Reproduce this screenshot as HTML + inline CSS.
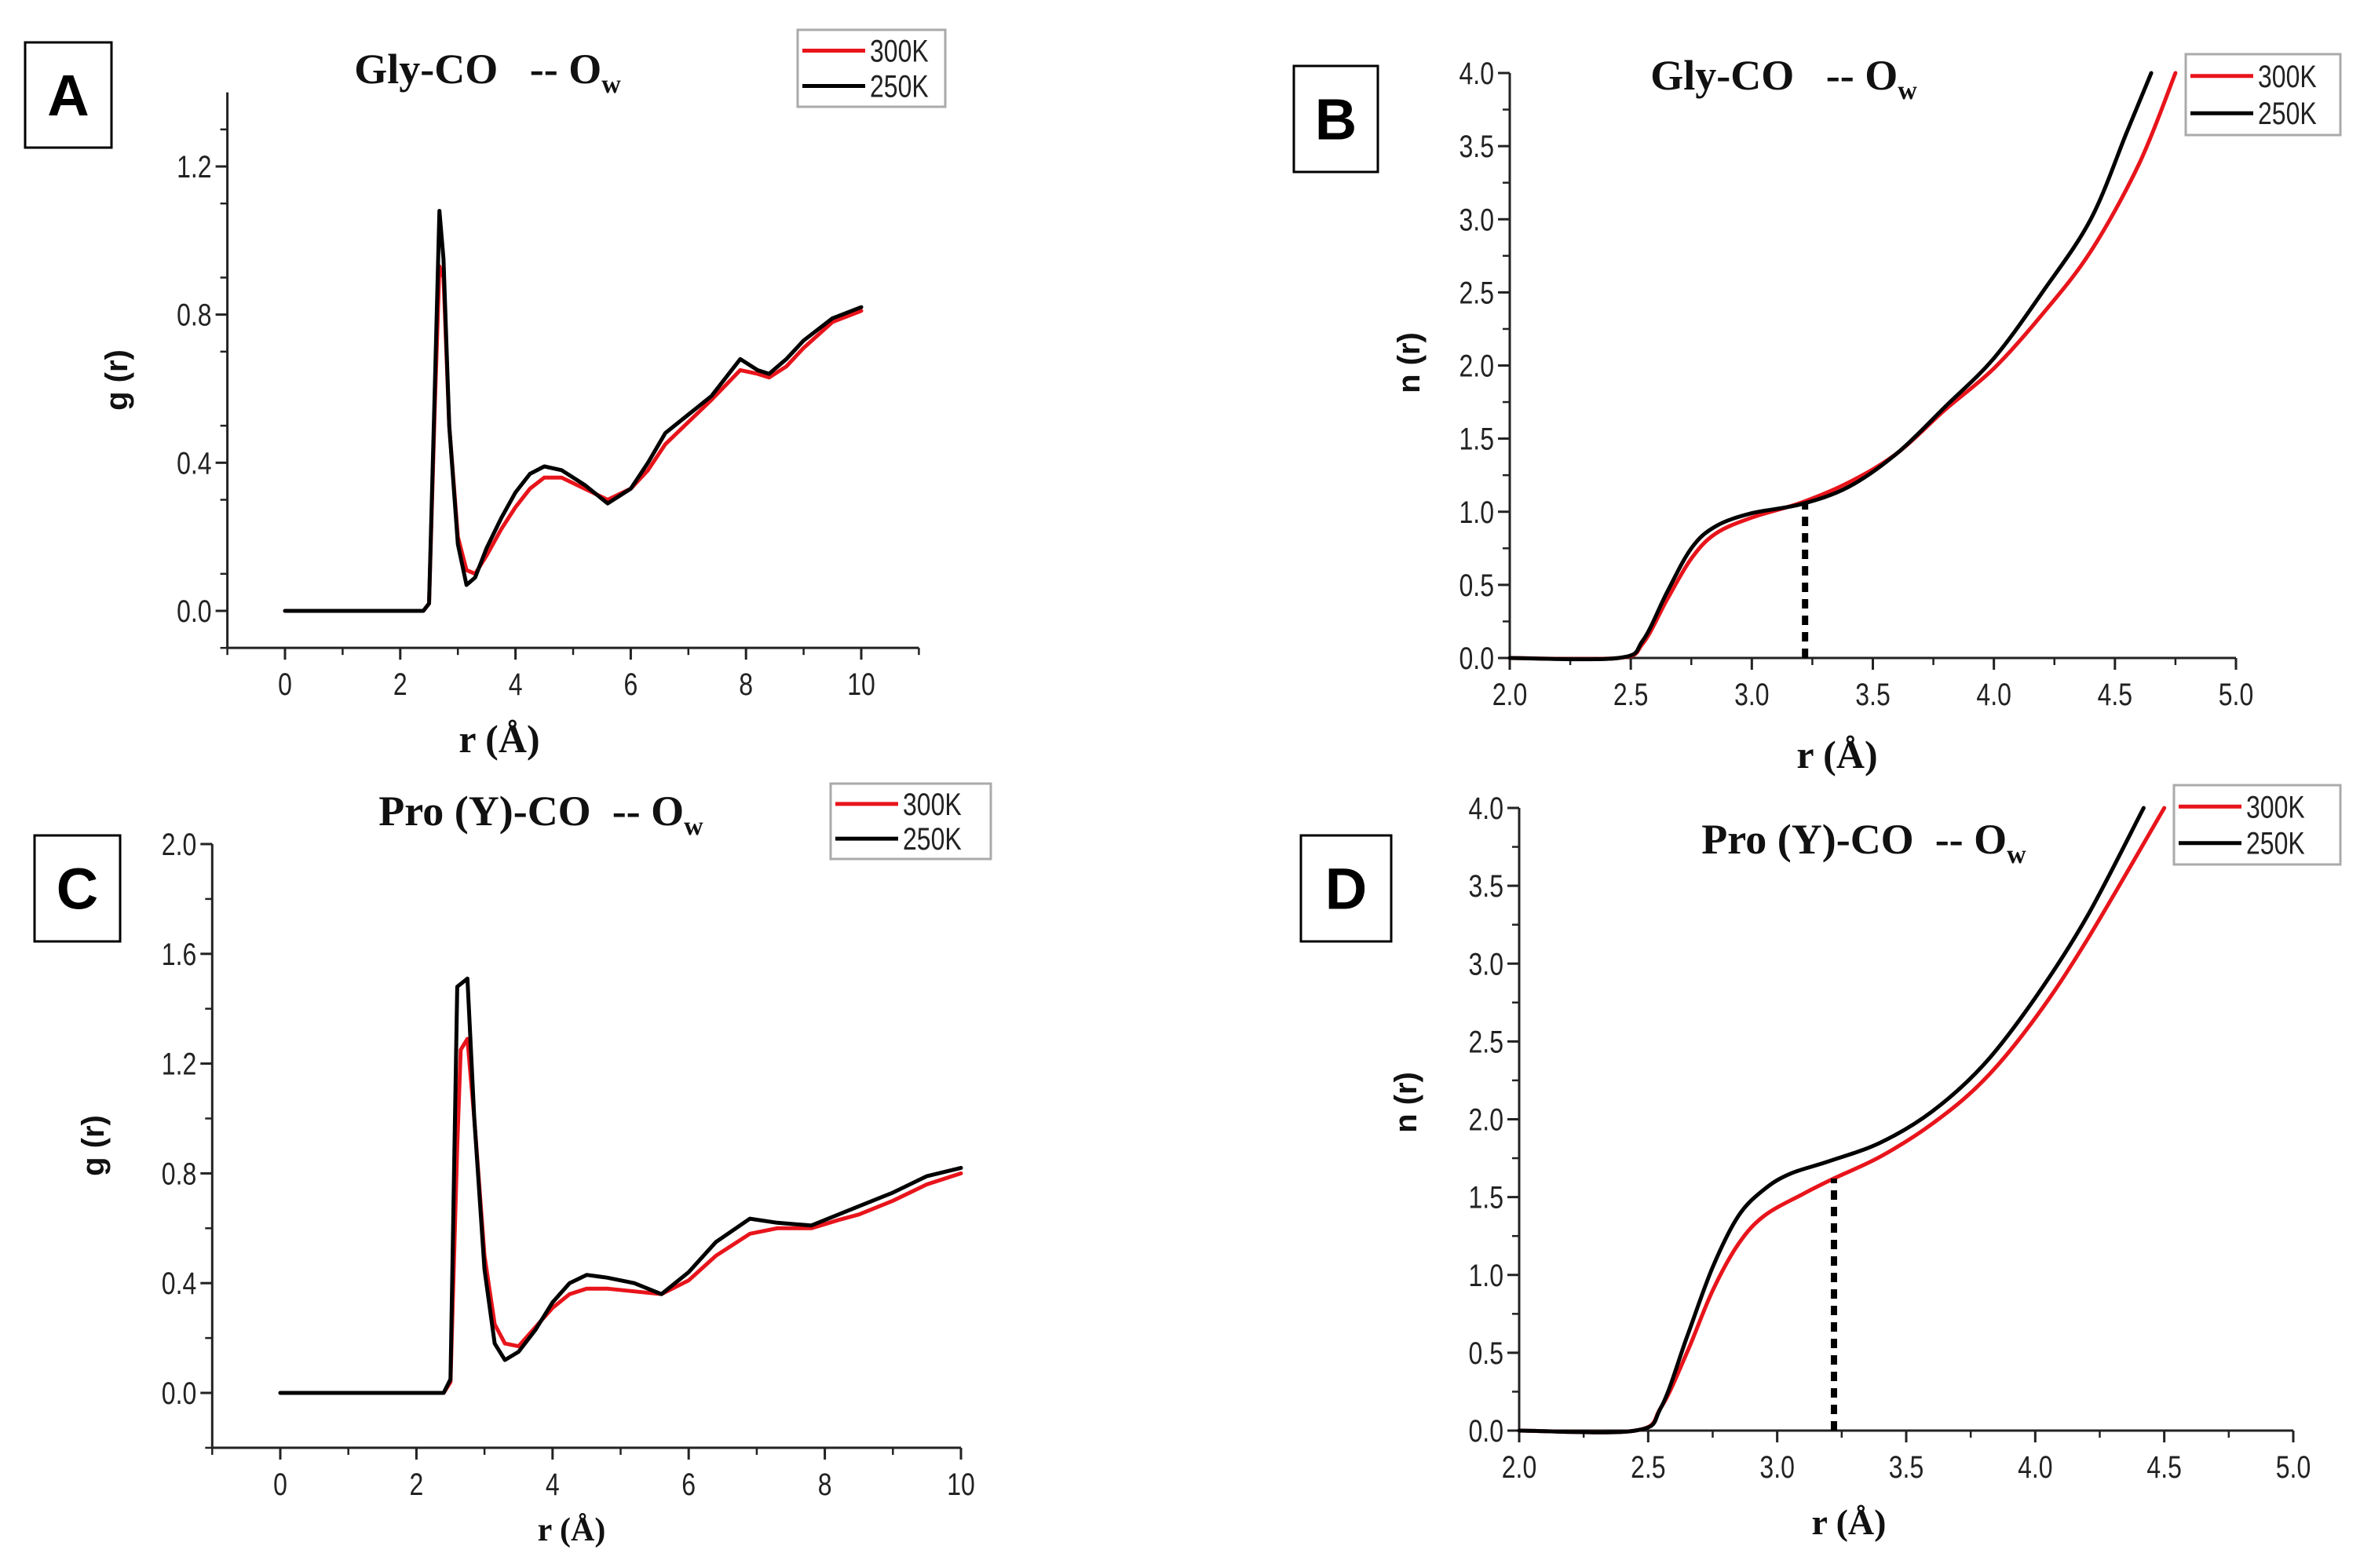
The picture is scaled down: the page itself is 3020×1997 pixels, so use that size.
<!DOCTYPE html>
<html><head><meta charset="utf-8"><style>
html,body{margin:0;padding:0;background:#fff;}
svg{display:block;}
</style></head><body>
<svg id="fig" width="3020" height="1997" viewBox="0 0 3020 1997" xmlns="http://www.w3.org/2000/svg"></svg>
<script>
// ---- Panel A data: g(r), Gly-CO -- Ow ----
const aR = [0,2.4,2.5,2.6,2.68,2.75,2.85,3.0,3.15,3.3,3.5,3.75,4.0,4.25,4.5,4.8,5.2,5.6,6.0,6.3,6.6,7.0,7.4,7.9,8.2,8.4,8.7,9.0,9.5,10];
const aG250 = [0,0,0.02,0.6,1.08,0.95,0.5,0.18,0.07,0.09,0.17,0.25,0.32,0.37,0.39,0.38,0.34,0.29,0.33,0.40,0.48,0.53,0.58,0.68,0.65,0.64,0.68,0.73,0.79,0.82];
const aG300 = [0,0,0.02,0.55,0.93,0.90,0.5,0.2,0.11,0.10,0.15,0.22,0.28,0.33,0.36,0.36,0.33,0.30,0.33,0.38,0.45,0.51,0.57,0.65,0.64,0.63,0.66,0.71,0.78,0.81];
const aXTicks = [0,2,4,6,8,10];
const aYTicks = [0.0,0.4,0.8,1.2];
// ---- Panel C data: g(r), Pro(Y)-CO -- Ow ----
const cR = [0,2.4,2.5,2.6,2.65,2.75,2.85,3.0,3.15,3.3,3.5,3.75,4.0,4.25,4.5,4.8,5.2,5.6,6.0,6.4,6.9,7.3,7.8,8.2,8.5,9.0,9.5,10];
const cG250 = [0,0,0.05,1.48,1.49,1.51,1.0,0.45,0.18,0.12,0.15,0.23,0.33,0.40,0.43,0.42,0.40,0.36,0.44,0.55,0.635,0.62,0.61,0.65,0.68,0.73,0.79,0.82];
const cG300 = [0,0,0.04,0.9,1.25,1.29,1.0,0.5,0.25,0.18,0.17,0.24,0.31,0.36,0.38,0.38,0.37,0.36,0.41,0.50,0.58,0.60,0.60,0.63,0.65,0.70,0.76,0.80];
const cXTicks = [0,2,4,6,8,10];
const cYTicks = [0.0,0.4,0.8,1.2,1.6,2.0];
// ---- Panel B data: n(r), Gly-CO -- Ow ----
const bR250 = [2.0,2.45,2.55,2.65,2.75,2.85,3.0,3.2,3.4,3.6,3.8,4.0,4.2,4.4,4.55,4.65];
const bN250 = [0,0,0.12,0.45,0.75,0.9,0.99,1.05,1.17,1.4,1.72,2.05,2.5,3.0,3.6,4.0];
const bR300 = [2.0,2.45,2.55,2.65,2.75,2.85,3.0,3.2,3.4,3.6,3.8,4.0,4.2,4.4,4.6,4.75];
const bN300 = [0,0,0.1,0.4,0.68,0.85,0.96,1.06,1.2,1.4,1.7,1.98,2.35,2.78,3.38,4.0];
const bCut = [3.22, 1.07];
// ---- Panel D data: n(r), Pro(Y)-CO -- Ow ----
const dR250 = [2.0,2.45,2.55,2.65,2.75,2.85,2.95,3.05,3.2,3.4,3.6,3.8,4.0,4.2,4.42];
const dN250 = [0,0,0.15,0.6,1.05,1.38,1.55,1.65,1.73,1.85,2.05,2.35,2.78,3.3,4.0];
const dR300 = [2.0,2.45,2.55,2.65,2.75,2.85,2.95,3.1,3.22,3.4,3.6,3.8,4.0,4.2,4.5];
const dN300 = [0,0,0.15,0.5,0.9,1.2,1.38,1.52,1.62,1.76,1.97,2.25,2.65,3.15,4.0];
const dCut = [3.22, 1.62];
const nXTicks = [2.0,2.5,3.0,3.5,4.0,4.5,5.0];
const nYTicks = [0.0,0.5,1.0,1.5,2.0,2.5,3.0,3.5,4.0];

const NS = "http://www.w3.org/2000/svg";
const svg = document.getElementById('fig');
function el(tag, attrs, parent, text) {
  const e = document.createElementNS(NS, tag);
  for (const k in attrs) e.setAttribute(k, attrs[k]);
  if (text !== undefined) e.textContent = text;
  (parent || svg).appendChild(e);
  return e;
}
function pathD(P, smooth) {
  if (!smooth) return 'M' + P.map(p => p[0].toFixed(1) + ',' + p[1].toFixed(1)).join(' L');
  let d = 'M' + P[0][0].toFixed(1) + ',' + P[0][1].toFixed(1);
  for (let i = 0; i < P.length - 1; i++) {
    const p0 = P[i - 1] || P[i], p1 = P[i], p2 = P[i + 1], p3 = P[i + 2] || p2;
    const c1 = [p1[0] + (p2[0] - p0[0]) / 6, p1[1] + (p2[1] - p0[1]) / 6];
    const c2 = [p2[0] - (p3[0] - p1[0]) / 6, p2[1] - (p3[1] - p1[1]) / 6];
    d += ` C${c1[0].toFixed(1)},${c1[1].toFixed(1)} ${c2[0].toFixed(1)},${c2[1].toFixed(1)} ${p2[0].toFixed(1)},${p2[1].toFixed(1)}`;
  }
  return d;
}
function ctext(x, y, anchor, size, str, parent) {
  return el('text', {x: 0, y: 0, transform: `translate(${x},${y}) scale(0.8,1)`, 'text-anchor': anchor, 'font-family': 'Liberation Sans, sans-serif', 'font-size': size, fill: '#222'}, parent, str);
}

function panel(cfg) {
  const g = el('g', {});
  
  
  const sx = v => cfg.px0 + (v - cfg.x0) / (cfg.x1 - cfg.x0) * (cfg.px1 - cfg.px0);
  const sy = v => cfg.py0 + (v - cfg.y0) / (cfg.y1 - cfg.y0) * (cfg.py1 - cfg.py0);
  const axL = sx(cfg.axXmin), axR = sx(cfg.axXmax), axB = sy(cfg.axYmin), axT = sy(cfg.axYmax);
  const xa = el('line', {x1: axL, y1: axB, x2: axR, y2: axB, stroke: '#222', 'stroke-width': 3}, g);
  
  
  const ya = el('line', {x1: axL, y1: axB, x2: axL, y2: axT, stroke: '#222', 'stroke-width': 3}, g);
  
  
  for (let v = cfg.axXmin; v <= cfg.axXmax + 1e-9; v += cfg.xMinor) {
    el('line', {x1: sx(v), y1: axB, x2: sx(v), y2: axB + 9, stroke: '#222', 'stroke-width': 2.5}, g);
  }
  for (let v = cfg.axYmin; v <= cfg.axYmax + 1e-9; v += cfg.yMinor) {
    el('line', {x1: axL, y1: sy(v), x2: axL - 9, y2: sy(v), stroke: '#222', 'stroke-width': 2.5}, g);
  }
  cfg.xTicks.forEach(v => {
    el('line', {x1: sx(v), y1: axB, x2: sx(v), y2: axB + 15, stroke: '#222', 'stroke-width': 3}, g);
    const t = ctext(sx(v), axB + 60, 'middle', 40, cfg.fmt(v), g);
    
    
  });
  cfg.yTicks.forEach(v => {
    el('line', {x1: axL, y1: sy(v), x2: axL - 15, y2: sy(v), stroke: '#222', 'stroke-width': 3}, g);
    const t = ctext(axL - 20, sy(v) + 14, 'end', 40, v.toFixed(1), g);
    
    
  });
  cfg.series.forEach(s => {
    const P = s.r.map((r, i) => [sx(r), sy(s.v[i])]);
    const p = el('path', {d: pathD(P, cfg.smooth), fill: 'none', stroke: s.color, 'stroke-width': 5, 'stroke-linejoin': 'round', 'stroke-linecap': 'round'}, g);
    
    
  });
  if (cfg.cut) {
    const c = el('line', {x1: sx(cfg.cut[0]), y1: sy(0), x2: sx(cfg.cut[0]), y2: sy(cfg.cut[1]), stroke: '#000', 'stroke-width': 8, 'stroke-dasharray': '12,9'}, g);
    
    
  }
  const xt = el('text', {x: cfg.xtX, y: cfg.xtY, 'text-anchor': 'middle', 'font-family': 'Liberation Serif, serif', 'font-weight': 'bold', 'font-size': cfg.xtSize, fill: '#111'}, g, 'r (Å)');
  
  
  const yt = el('text', {x: 0, y: 0, transform: `translate(${cfg.ytX},${cfg.ytY}) rotate(-90)`, 'text-anchor': 'middle', 'font-family': 'Liberation Sans, sans-serif', 'font-weight': 'bold', 'font-size': 40, fill: '#111'}, g, cfg.ytText);
  
  
  const tt = el('text', {x: cfg.tX, y: cfg.tY, 'text-anchor': 'middle', 'font-family': 'Liberation Serif, serif', 'font-weight': 'bold', 'font-size': 54, fill: '#111', 'xml:space': 'preserve'}, g);
  
  
  el('tspan', {}, tt, cfg.title + '\u00a0 -- O');
  el('tspan', {'font-size': 34, dy: 12}, tt, 'w');
  const L = cfg.leg;
  const lg = el('g', {}, g);
  
  
  el('rect', {x: L[0], y: L[1], width: L[2] - L[0], height: L[3] - L[1], fill: '#fff', stroke: '#aaa', 'stroke-width': 3}, lg);
  const h = (L[3] - L[1]);
  [['300K', '#e8141b', 0.27], ['250K', '#000', 0.73]].forEach(([lab, col, f]) => {
    const yy = L[1] + h * f;
    const ln = el('line', {x1: L[0] + 6, y1: yy, x2: L[0] + 86, y2: yy, stroke: col, 'stroke-width': 5}, lg);
    
    
    const lt = ctext(L[0] + 92, yy + 14, 'start', 40, lab, lg);
    
    
  });
  const B = cfg.box;
  const bl = el('g', {}, g);
  
  
  el('rect', {x: B[0], y: B[1], width: B[2] - B[0], height: B[3] - B[1], fill: '#fff', stroke: '#000', 'stroke-width': 3}, bl);
  el('text', {x: (B[0] + B[2]) / 2, y: (B[1] + B[3]) / 2 + 26, 'text-anchor': 'middle', 'font-family': 'Liberation Sans, sans-serif', 'font-weight': 'bold', 'font-size': 74, fill: '#000'}, bl, cfg.letter);
}

const f0 = v => String(v);
const f1 = v => v.toFixed(1);

panel({name: 'panel-a', letter: 'A', box: [32, 54, 142, 188],
  x0: 0, x1: 10, px0: 363, px1: 1097, y0: 0, y1: 1.2, py0: 778, py1: 212,
  axXmin: -1, axXmax: 11, axYmin: -0.1, axYmax: 1.4, xMinor: 1, yMinor: 0.2,
  xTicks: aXTicks, yTicks: aYTicks, fmt: f0, smooth: false,
  series: [{name: 'line-300k', r: aR, v: aG300, color: '#e8141b'}, {name: 'line-250k', r: aR, v: aG250, color: '#000'}],
  xtX: 636, xtY: 958, xtSize: 50, ytX: 162, ytY: 484, ytText: 'g (r)',
  tX: 621, tY: 106, title: 'Gly-CO ', leg: [1016, 38, 1204, 136]});

panel({name: 'panel-b', letter: 'B', box: [1648, 84, 1755, 219],
  x0: 2, x1: 5, px0: 1923, px1: 2848, y0: 0, y1: 4, py0: 838, py1: 93,
  axXmin: 2, axXmax: 5, axYmin: 0, axYmax: 4, xMinor: 0.25, yMinor: 0.25,
  xTicks: nXTicks, yTicks: nYTicks, fmt: f1, cut: bCut, smooth: true,
  series: [{name: 'line-300k', r: bR300, v: bN300, color: '#e8141b'}, {name: 'line-250k', r: bR250, v: bN250, color: '#000'}],
  xtX: 2340, xtY: 978, xtSize: 50, ytX: 1808, ytY: 462, ytText: 'n (r)',
  tX: 2272, tY: 114, title: 'Gly-CO ', leg: [2784, 69, 2981, 172]});

panel({name: 'panel-c', letter: 'C', box: [44, 1064, 153, 1199],
  x0: 0, x1: 10, px0: 357, px1: 1224, y0: 0, y1: 2, py0: 1774, py1: 1075,
  axXmin: -1, axXmax: 10, axYmin: -0.2, axYmax: 2.0, xMinor: 1, yMinor: 0.2,
  xTicks: cXTicks, yTicks: cYTicks, fmt: f0, smooth: false,
  series: [{name: 'line-300k', r: cR, v: cG300, color: '#e8141b'}, {name: 'line-250k', r: cR, v: cG250, color: '#000'}],
  xtX: 728, xtY: 1962, xtSize: 42, ytX: 132, ytY: 1459, ytText: 'g (r)',
  tX: 689, tY: 1051, title: 'Pro (Y)-CO', leg: [1058, 998, 1262, 1094]});

panel({name: 'panel-d', letter: 'D', box: [1657, 1064, 1772, 1199],
  x0: 2, x1: 5, px0: 1935, px1: 2921, y0: 0, y1: 4, py0: 1822, py1: 1029,
  axXmin: 2, axXmax: 5, axYmin: 0, axYmax: 4, xMinor: 0.25, yMinor: 0.25,
  xTicks: nXTicks, yTicks: nYTicks, fmt: f1, cut: dCut, smooth: true,
  series: [{name: 'line-300k', r: dR300, v: dN300, color: '#e8141b'}, {name: 'line-250k', r: dR250, v: dN250, color: '#000'}],
  xtX: 2355, xtY: 1954, xtSize: 46, ytX: 1804, ytY: 1404, ytText: 'n (r)',
  tX: 2374, tY: 1087, title: 'Pro (Y)-CO', leg: [2769, 1000, 2981, 1101]});
</script>
</body></html>
